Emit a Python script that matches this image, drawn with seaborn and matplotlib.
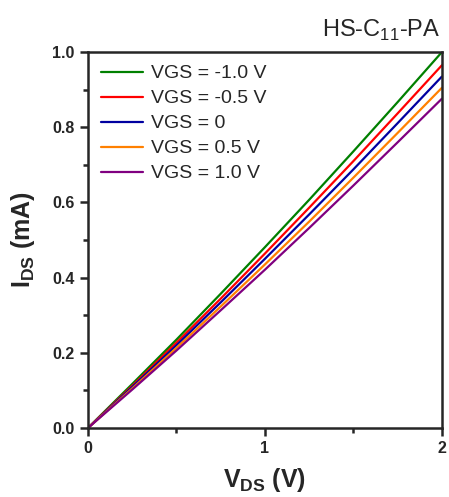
import numpy as np
import pandas as pd
import seaborn as sns
import matplotlib.pyplot as plt
from matplotlib.ticker import MultipleLocator, FormatStrFormatter

vds = [0.0, 0.25, 0.5, 0.75, 1.0, 1.25, 1.5, 1.75, 2.0]
i_m10 = [0.0, 0.117, 0.235, 0.357, 0.481, 0.607, 0.736, 0.867, 1.000]
i_m05 = [0.0, 0.112, 0.227, 0.344, 0.464, 0.586, 0.710, 0.837, 0.965]
i_00 = [0.0, 0.109, 0.220, 0.334, 0.450, 0.568, 0.688, 0.811, 0.935]
i_p05 = [0.0, 0.105, 0.213, 0.323, 0.435, 0.549, 0.666, 0.785, 0.905]
i_p10 = [0.0, 0.102, 0.206, 0.313, 0.421, 0.532, 0.645, 0.760, 0.876]

labels = ["VGS = -1.0 V", "VGS = -0.5 V", "VGS = 0", "VGS = 0.5 V", "VGS = 1.0 V"]
colors = ["#008000", "#ff0000", "#0000a0", "#ff8000", "#800080"]

rows = []
for lab, ys in zip(labels, [i_m10, i_m05, i_00, i_p05, i_p10]):
    for x, y in zip(vds, ys):
        rows.append({"VDS": x, "IDS": y, "VGS": lab})
df = pd.DataFrame(rows)

sns.set_style("ticks")
plt.rcParams['font.family'] = ['Liberation Sans', 'DejaVu Sans']
plt.rcParams['mathtext.fontset'] = 'custom'
plt.rcParams['mathtext.rm'] = 'Liberation Sans'
plt.rcParams['mathtext.bf'] = 'Liberation Sans:bold'

fig = plt.figure(figsize=(4.49, 4.97), dpi=100)
ax = fig.add_axes([0.196, 0.139, 0.788, 0.756])

sns.lineplot(data=df, x="VDS", y="IDS", hue="VGS", palette=dict(zip(labels, colors)),
             hue_order=labels, linewidth=1.6, ax=ax)

ax.set_xlim(0, 2)
ax.set_ylim(0, 1.0)
ax.xaxis.set_major_locator(MultipleLocator(1))
ax.xaxis.set_minor_locator(MultipleLocator(0.5))
ax.yaxis.set_major_locator(MultipleLocator(0.2))
ax.yaxis.set_minor_locator(MultipleLocator(0.1))
ax.xaxis.set_major_formatter(FormatStrFormatter("%d"))
ax.yaxis.set_major_formatter(FormatStrFormatter("%.1f"))
ax.tick_params(which='both', direction='out', width=1.8, labelsize=11.5,
               top=False, right=False)
ax.tick_params(which='major', length=6)
ax.tick_params(which='minor', length=3.5)
for lab in ax.get_xticklabels() + ax.get_yticklabels():
    lab.set_fontweight('bold')
for s in ax.spines.values():
    s.set_linewidth(1.8)

ax.set_xlabel(r"$\mathbf{V_{DS}}$ (V)", fontsize=18, fontweight='bold', labelpad=7)
ax.set_ylabel(r"$\mathbf{I_{DS}}$ (mA)", fontsize=18, fontweight='bold', labelpad=11)

ax.legend(loc="upper left", frameon=False, fontsize=14, handlelength=2.2,
          labelspacing=0.38, handletextpad=0.4, borderaxespad=0.25,
          borderpad=0.4)

fig.text(0.982, 0.938, r"HS-C$_{11}$-PA", ha='right', va='center', fontsize=17)

fig.savefig("out.png", dpi=100)
